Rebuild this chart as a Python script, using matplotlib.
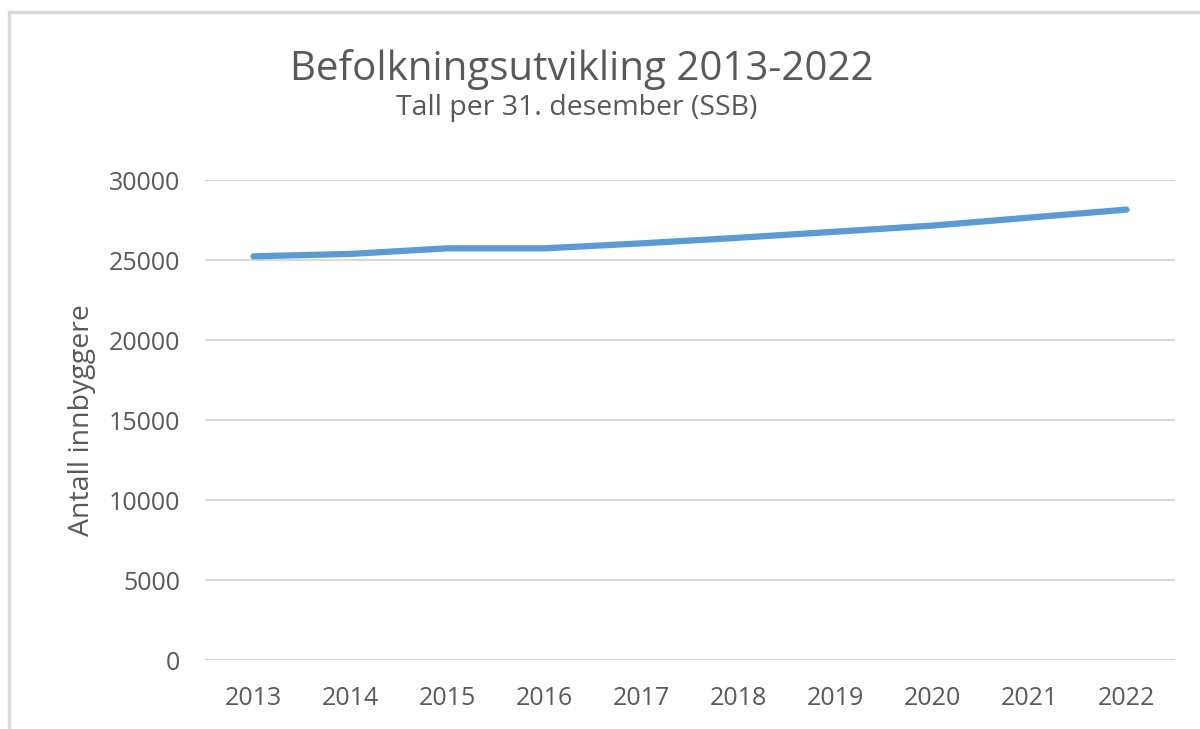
import numpy as np
import matplotlib as mpl
mpl.use('Agg')
import matplotlib.pyplot as plt
from matplotlib.patches import Rectangle

years = ['2013', '2014', '2015', '2016', '2017', '2018', '2019', '2020', '2021', '2022']
population = [25230, 25380, 25730, 25730, 26040, 26390, 26770, 27150, 27650, 28150]

title = 'Befolkningsutvikling 2013-2022'
subtitle = 'Tall per 31. desember (SSB)'
ylabel = 'Antall innbyggere'

text_color = '#595959'
grid_color = '#d9d9d9'
line_color = '#5b9bd5'

plt.rcParams['font.family'] = ['Open Sans', 'DejaVu Sans']

fig = plt.figure(figsize=(12, 7.29), dpi=100)
ax = fig.add_axes([205 / 1200, 1 - 660 / 729, 970 / 1200, 480 / 729])

x = np.arange(len(years))
ax.plot(x, population, color=line_color, lw=4.5, solid_capstyle='round')

ax.set_xlim(-0.5, len(years) - 0.5)
ax.set_ylim(0, 30000)
ax.set_yticks(np.arange(0, 30001, 5000))
ax.set_xticks(x)
ax.set_xticklabels(years)
ax.tick_params(axis='both', length=0, labelsize=18, labelcolor=text_color)
ax.tick_params(axis='y', pad=18)
ax.tick_params(axis='x', pad=19)
ax.grid(axis='y', color=grid_color, lw=1.6)
ax.set_axisbelow(True)
for s in ax.spines.values():
    s.set_visible(False)

ax.set_ylabel(ylabel, fontsize=20.5, color=text_color, labelpad=9)

fig.text(582 / 1200, 1 - 70 / 729, title, fontsize=29, color=text_color,
         ha='center', va='center')
fig.text(577 / 1200, 1 - 108 / 729, subtitle, fontsize=20.5, color=text_color,
         ha='center', va='center')

# outer chart border
fig.patches.append(Rectangle((9 / 1200, -0.05), 1.2, 1 - 12 / 729 + 0.05,
                             transform=fig.transFigure, fill=False,
                             ec=grid_color, lw=2.5))

fig.savefig('out.png', dpi=100)
